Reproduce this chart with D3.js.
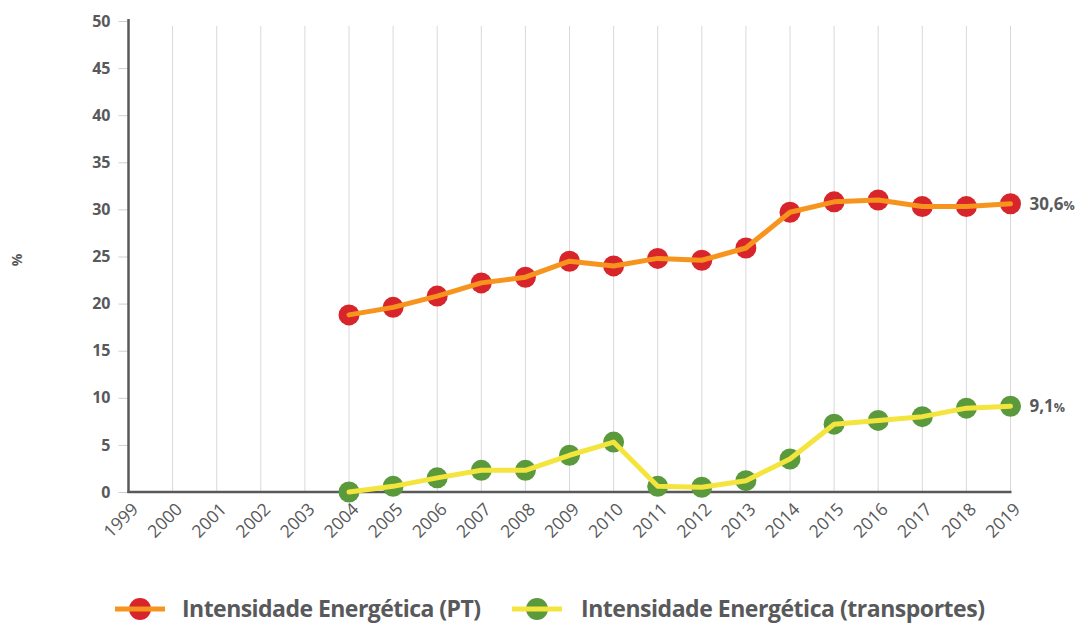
<!DOCTYPE html>
<html>
<head>
<meta charset="utf-8">
<script src="https://cdn.jsdelivr.net/npm/d3@7/dist/d3.min.js"></script>
<style>
  html, body { margin: 0; padding: 0; background: #fff; }
  svg { display: block; font-family: "Open Sans", "Noto Sans", sans-serif; }
</style>
</head>
<body>
<svg id="chart" width="1079" height="624"></svg>
<script>
// Years shown on the horizontal axis
const years = d3.range(1999, 2020);
// Y axis ticks (%)
const yTicks = [0, 5, 10, 15, 20, 25, 30, 35, 40, 45, 50];

// Series years (data available from 2004)
const seriesYears = d3.range(2004, 2020);
// Intensidade Energética (PT), %
const ptValues = [18.8, 19.6, 20.8, 22.2, 22.8, 24.5, 24.0, 24.8, 24.6, 25.9, 29.7, 30.8, 31.0, 30.3, 30.3, 30.6];
// Intensidade Energética (transportes), %
const transValues = [0.0, 0.6, 1.5, 2.3, 2.3, 3.9, 5.3, 0.6, 0.5, 1.2, 3.5, 7.2, 7.6, 8.0, 8.9, 9.1];

const seriesNames = ["Intensidade Energética (PT)", "Intensidade Energética (transportes)"];
const endLabels = ["30,6", "9,1"];

const colors = {
  pt: { line: "#f7941d", dot: "#d7252b" },
  tr: { line: "#f4e53e", dot: "#5a9a3d" }
};
const textColor = "#58595b";

const svg = d3.select("#chart");

const x = d3.scalePoint().domain(years).range([128.5, 1010.5]);
const y = d3.scaleLinear().domain([0, 50]).range([492, 21]);

// vertical grid lines
svg.append("g")
  .selectAll("line")
  .data(years.slice(1))
  .join("line")
  .attr("x1", d => x(d)).attr("x2", d => x(d))
  .attr("y1", 26).attr("y2", y(0))
  .attr("stroke", "#d9d9d9")
  .attr("stroke-width", 1);

// Y axis
const yAxis = svg.append("g")
  .attr("transform", `translate(${x(1999)},0)`)
  .call(d3.axisLeft(y).tickValues(yTicks).tickSize(10).tickPadding(8));
yAxis.select(".domain").remove();
yAxis.selectAll(".tick line").attr("stroke", "#d0d0d0").attr("stroke-width", 1);
yAxis.selectAll(".tick text")
  .attr("fill", textColor)
  .attr("font-size", 16)
  .attr("font-weight", 700)
  .attr("font-family", "'Open Sans', sans-serif");

// X axis labels, rotated
const xAxis = svg.append("g")
  .attr("transform", `translate(0,${y(0)})`)
  .call(d3.axisBottom(x).tickSize(0).tickPadding(0));
xAxis.attr("font-size", 17.5).attr("font-family", "'Open Sans', sans-serif");
xAxis.select(".domain").remove();
xAxis.selectAll(".tick text")
  .attr("fill", textColor)
  .attr("text-anchor", "end")
  .attr("dy", "0.35em")
  .attr("transform", "translate(6,14) rotate(-45)");

// axis lines
svg.append("line")
  .attr("x1", x(1999)).attr("x2", x(1999))
  .attr("y1", 19).attr("y2", y(0) + 1)
  .attr("stroke", textColor).attr("stroke-width", 2.5);
svg.append("line")
  .attr("x1", x(1999) - 1).attr("x2", x(2019) + 1)
  .attr("y1", y(0)).attr("y2", y(0))
  .attr("stroke", textColor).attr("stroke-width", 2.5);

// Y axis title
svg.append("text")
  .attr("transform", "translate(17,260) rotate(-90)")
  .attr("text-anchor", "middle")
  .attr("dy", "0.35em")
  .attr("fill", textColor)
  .style("font-size", "14px")
  .style("font-weight", "700")
  .text("%");

const line = d3.line()
  .x((d, i) => x(seriesYears[i]))
  .y(d => y(d))
  .curve(d3.curveLinear);

function drawSeries(values, c) {
  const g = svg.append("g");
  g.selectAll("circle")
    .data(values)
    .join("circle")
    .attr("cx", (d, i) => x(seriesYears[i]))
    .attr("cy", d => y(d))
    .attr("r", 10.5)
    .attr("fill", c.dot);
  g.append("path")
    .datum(values)
    .attr("d", line)
    .attr("fill", "none")
    .attr("stroke", c.line)
    .attr("stroke-width", 5)
    .attr("stroke-linejoin", "round")
    .attr("stroke-linecap", "round");
}
drawSeries(ptValues, colors.pt);
drawSeries(transValues, colors.tr);

// value labels at the last point
[ptValues, transValues].forEach((vals, k) => {
  const last = vals[vals.length - 1];
  const t = svg.append("text")
    .attr("x", x(2019) + 19)
    .attr("y", y(last))
    .attr("dy", "0.35em")
    .attr("fill", textColor)
    .style("font-weight", "700")
    .style("font-size", "17px");
  t.append("tspan").text(endLabels[k]);
  t.append("tspan").style("font-size", "12.5px").text("%");
});

// legend
const legendItems = [
  { name: seriesNames[0], c: colors.pt, cx: 140, tx: 182, w: 299 },
  { name: seriesNames[1], c: colors.tr, cx: 537, tx: 581, w: 404 }
];
const ly = 609;
legendItems.forEach(it => {
  const g = svg.append("g");
  g.append("circle")
    .attr("cx", it.cx).attr("cy", ly).attr("r", 11)
    .attr("fill", it.c.dot);
  g.append("line")
    .attr("x1", it.cx - 25).attr("x2", it.cx + 25)
    .attr("y1", ly).attr("y2", ly)
    .attr("stroke", it.c.line).attr("stroke-width", 5);
  const t = g.append("text")
    .attr("x", it.tx).attr("y", 617)
    .attr("fill", textColor)
    .style("font-size", "23px")
    .style("font-weight", "700")
    .text(it.name);
  // tighten tracking so the label spans its width
  const n = it.name.length;
  const w = t.node().getComputedTextLength();
  t.style("letter-spacing", ((it.w - w) / (n - 1)) + "px");
});
</script>
</body>
</html>
